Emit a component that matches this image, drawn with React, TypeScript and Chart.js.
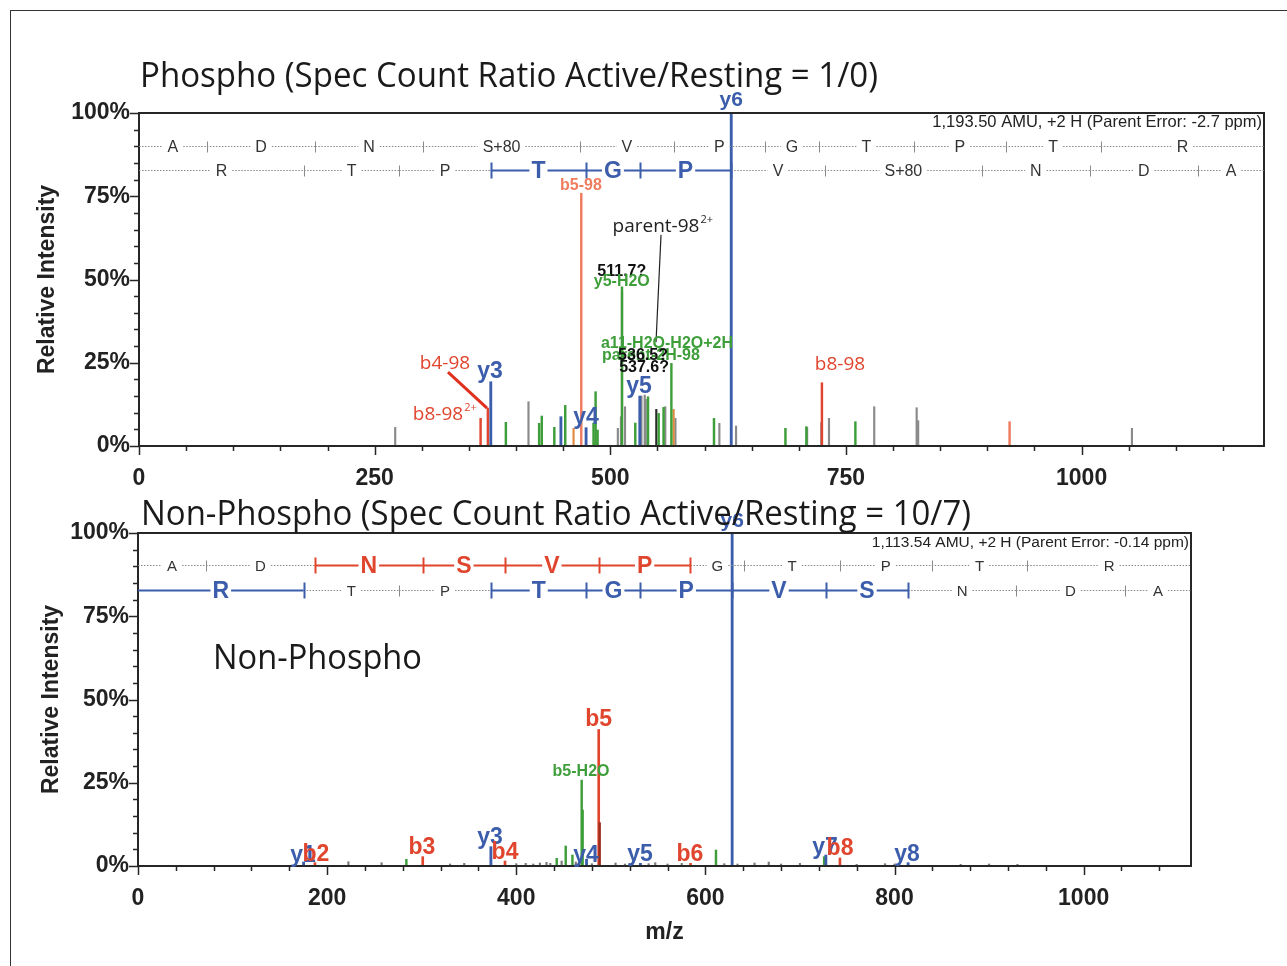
import React, { useEffect, useRef } from 'react';
import { Chart, registerables } from 'chart.js';

Chart.register(...registerables);

const ARIAL = "'Liberation Sans', Arial, Helvetica, sans-serif";
const OPEN = "'Open Sans', 'Noto Sans', sans-serif";

// ---------- axes ----------
const yTickValues = [0, 25, 50, 75, 100];
const topXTickValues = [0, 250, 500, 750, 1000];
const bottomXTickValues = [0, 200, 400, 600, 800, 1000];
const topMaxMz = 1193.5;
const bottomMaxMz = 1113.54;

// ---------- top (phospho) peaks: m/z and relative intensity (%) ----------
const topBlueMz = [373.2, 447.6, 474.3, 531.3, 628.3];
const topBlueInt = [19.3, 8.8, 5.5, 15.0, 100];
const topRedMz = [362.4, 370.1, 724.5];
const topRedInt = [8.3, 11.4, 19.0];
const topSalmonMz = [469.2, 923.6];
const topSalmonInt = [75.9, 7.3];
const topOrangeMz = [461.0, 567.2];
const topOrangeInt = [5.3, 11.0];
const topGreenMz = [389.2, 424.5, 427.3, 440.6, 452.2, 482.2, 484.4, 486.5, 512.4, 526.5, 540.0, 551.3, 556.5, 564.8, 610.0, 685.8, 708.0, 760.0];
const topGreenInt = [7.1, 6.8, 9.0, 5.6, 12.2, 6.9, 16.3, 4.8, 47.8, 6.9, 14.8, 9.8, 11.6, 24.8, 8.3, 5.3, 5.8, 7.3];
const topGrayMz = [271.8, 413.2, 508.0, 511.3, 515.6, 533.0, 536.5, 537.6, 558.3, 569.1, 615.7, 633.4, 708.8, 723.8, 732.0, 780.0, 825.0, 826.6, 1053.4];
const topGrayInt = [5.6, 13.3, 5.3, 8.8, 11.8, 15.0, 15.3, 14.0, 11.8, 8.3, 6.8, 6.0, 5.5, 7.0, 8.3, 11.8, 11.5, 7.6, 5.3];
const topBlackMz = [512.4, 548.8];
const topBlackInt = [46.0, 11.0];

// ---------- bottom (non-phospho) peaks ----------
const botBlueMz = [175.1, 373.2, 474.3, 531.3, 628.3, 727.4, 814.4];
const botBlueInt = [1.2, 5.8, 2.0, 0.8, 100, 3.3, 1.0];
const botRedMz = [187.1, 301.1, 388.1, 487.2, 584.3, 742.3];
const botRedInt = [1.0, 2.8, 1.5, 41.0, 0.8, 2.4];
const botDarkRedMz = [488.2];
const botDarkRedInt = [13.0];
const botGreenMz = [283.8, 442.8, 452.3, 459.4, 469.2, 470.2, 611.2, 725.6];
const botGreenInt = [2.0, 2.3, 6.0, 3.3, 25.8, 16.8, 4.8, 2.8];
const botGrayMz = [222.5, 257.6, 330, 345, 400, 410, 418, 425, 432, 436, 448, 463, 480, 505, 515, 520, 540, 547, 560, 575, 620, 634, 652, 667, 680, 700, 760, 790, 800, 870, 900, 930];
const botGrayInt = [1.3, 1.0, 0.6, 0.8, 0.7, 0.8, 0.6, 0.9, 1.1, 0.8, 1.5, 1.2, 0.7, 0.9, 0.6, 0.8, 0.7, 1.0, 0.6, 0.8, 0.7, 0.6, 0.9, 1.2, 0.6, 0.8, 0.5, 0.7, 0.6, 0.5, 0.6, 0.5];

// ---------- sequence ladders ----------
const topBSeq = ['A', 'D', 'N', 'S+80', 'V', 'P', 'G', 'T', 'P', 'T', 'R'];
const topBBounds = [72.04, 187.07, 301.11, 468.11, 567.18, 664.23, 721.25, 822.3, 919.35, 1020.4];
const topBSolid: number[] = [];
const topYSeq = ['R', 'T', 'P', 'T', 'G', 'P', 'V', 'S+80', 'N', 'D', 'A'];
const topYBounds = [175.12, 276.17, 373.22, 474.27, 531.29, 628.34, 727.41, 894.4, 1008.44, 1123.47];
const topYSolid = [3, 4, 5];
const botBSeq = ['A', 'D', 'N', 'S', 'V', 'P', 'G', 'T', 'P', 'T', 'R'];
const botBBounds = [72.04, 187.07, 301.11, 388.14, 487.21, 584.26, 641.28, 742.33, 839.38, 940.43];
const botBSolid = [2, 3, 4, 5];
const botYSeq = ['R', 'T', 'P', 'T', 'G', 'P', 'V', 'S', 'N', 'D', 'A'];
const botYBounds = [175.12, 276.17, 373.22, 474.27, 531.29, 628.34, 727.41, 814.44, 928.49, 1043.52];
const botYSolid = [0, 3, 4, 5, 6, 7];

// ---------- colours ----------
const C = {
  blue: '#3b5dab',
  red: '#e0452e',
  salmon: '#f07c5e',
  orange: '#e38a42',
  green: '#3e9e3a',
  gray: '#8a8a8a',
  black: '#2a2a2a',
  darkred: '#9b2d1d',
};

// ---------- annotation labels (anchored in m/z / % units) ----------
const fBold = (s: number) => `bold ${s}px ${ARIAL}`;
const fOpen = (s: number) => `${s}px ${OPEN}`;

const topLabels = [
  { t: 'y6', mz: 628.3, p: 103.9, c: C.blue, f: fBold(21) },
  { t: 'b5-98', mz: 468.9, p: 78.1, c: C.salmon, f: fBold(16) },
  { t: 'parent-98', mz: 548.5, p: 65.8, c: '#222', f: fOpen(19), sup: '2+', supF: fOpen(11) },
  { t: '511.7?', mz: 512.2, p: 52.3, c: '#111', f: fBold(16) },
  { t: 'y5-H2O', mz: 512.2, p: 49.5, c: C.green, f: fBold(16) },
  { t: 'a11-H2O-H2O+2H', mz: 490.1, p: 30.9, c: C.green, f: fBold(16), al: 'left' },
  { t: 'parent-2H-98', mz: 491.2, p: 27.0, c: C.green, f: fBold(16), al: 'left' },
  { t: '536.5?', mz: 534.7, p: 27.0, c: '#111', f: fBold(16) },
  { t: '537.6?', mz: 535.8, p: 23.4, c: '#111', f: fBold(16) },
  { t: 'y5', mz: 530.4, p: 17.7, c: C.blue, f: fBold(23) },
  { t: 'y4', mz: 474.2, p: 8.4, c: C.blue, f: fBold(23) },
  { t: 'y3', mz: 372.4, p: 22.2, c: C.blue, f: fBold(23) },
  { t: 'b4-98', mz: 324.6, p: 24.6, c: C.red, f: fOpen(19) },
  { t: 'b8-98', mz: 317.2, p: 9.3, c: C.red, f: fOpen(19), sup: '2+', supF: fOpen(11) },
  { t: 'b8-98', mz: 743.7, p: 24.3, c: C.red, f: fOpen(19) },
];
const topLeaders = [
  { x0: 327.8, p0: 22.2, x1: 369.2, p1: 11.4, c: '#e0301e', w: 3 },
  { x0: 553.8, p0: 63.4, x1: 548.5, p1: 31.2, c: '#222', w: 1.2 },
];

const botLabels = [
  { t: 'y6', mz: 628.3, p: 103.6, c: C.blue, f: fBold(21) },
  { t: 'b5', mz: 487.2, p: 43.8, c: C.red, f: fBold(23) },
  { t: 'b5-H2O', mz: 468.5, p: 28.5, c: C.green, f: fBold(16) },
  { t: 'y1', mz: 174.5, p: 3.0, c: C.blue, f: fBold(23) },
  { t: 'b2', mz: 188.2, p: 3.3, c: C.red, f: fBold(23) },
  { t: 'b3', mz: 300.3, p: 5.4, c: C.red, f: fBold(23) },
  { t: 'y3', mz: 372.2, p: 8.4, c: C.blue, f: fBold(23) },
  { t: 'b4', mz: 388.1, p: 3.9, c: C.red, f: fBold(23) },
  { t: 'y4', mz: 473.8, p: 3.0, c: C.blue, f: fBold(23) },
  { t: 'y5', mz: 530.9, p: 3.3, c: C.blue, f: fBold(23) },
  { t: 'b6', mz: 583.7, p: 3.3, c: C.red, f: fBold(23) },
  { t: 'y7', mz: 726.5, p: 5.4, c: C.blue, f: fBold(23) },
  { t: 'b8', mz: 742.4, p: 5.1, c: C.red, f: fBold(23) },
  { t: 'y8', mz: 813.2, p: 3.3, c: C.blue, f: fBold(23) },
  { t: 'Non-Phospho', mz: 79.3, p: 62.2, c: '#1a1a1a', f: fOpen(35), al: 'left', mw: 209 },
];

// ---------- plugin ----------
function drawRow(ctx: CanvasRenderingContext2D, X: (v: number) => number, a: any, xs: any, row: any) {
  const b = [xs.min, ...row.bounds, xs.max];
  const y = Math.round(a.top + row.dy) + 0.5;
  ctx.textAlign = 'center';
  ctx.textBaseline = 'middle';
  for (let i = 0; i < row.seq.length; i++) {
    const x0 = X(b[i]);
    const x1 = X(b[i + 1]);
    const cx = (x0 + x1) / 2;
    const solid = row.solid.indexOf(i) >= 0;
    ctx.font = solid ? row.boldFont : row.font;
    const tw = ctx.measureText(row.seq[i]).width;
    const g = solid ? 2 : 5;
    if (solid) {
      ctx.strokeStyle = row.color;
      ctx.lineWidth = 2.2;
      ctx.setLineDash([]);
    } else {
      ctx.strokeStyle = '#8a8a8a';
      ctx.lineWidth = 1;
      ctx.setLineDash([1.5, 1.5]);
    }
    const l = cx - tw / 2 - g;
    const r = cx + tw / 2 + g;
    ctx.beginPath();
    if (l > x0) { ctx.moveTo(x0, y); ctx.lineTo(l, y); }
    if (x1 > r) { ctx.moveTo(r, y); ctx.lineTo(x1, y); }
    ctx.stroke();
    ctx.fillStyle = solid ? row.color : '#333';
    ctx.fillText(row.seq[i], cx, y + 1);
  }
  ctx.setLineDash([]);
  for (let j = 0; j < row.bounds.length; j++) {
    const x = Math.round(X(row.bounds[j])) + 0.5;
    const colored = row.solid.indexOf(j) >= 0 || row.solid.indexOf(j + 1) >= 0;
    ctx.beginPath();
    if (colored) {
      ctx.strokeStyle = row.color;
      ctx.lineWidth = 2;
      ctx.moveTo(x, y - 8);
      ctx.lineTo(x, y + 8);
    } else {
      ctx.strokeStyle = '#8a8a8a';
      ctx.lineWidth = 1;
      ctx.moveTo(x, y - 5);
      ctx.lineTo(x, y + 6);
    }
    ctx.stroke();
  }
}

const specPlugin = {
  id: 'spec',
  afterDraw(chart: any, _args: any, o: any) {
    const { ctx, chartArea: a } = chart;
    const xs = chart.scales.x;
    const ys = chart.scales.y;
    const X = (v: number) => xs.getPixelForValue(v);
    const Y = (v: number) => ys.getPixelForValue(v);
    ctx.save();
    // plot frame
    ctx.setLineDash([]);
    ctx.strokeStyle = '#262626';
    ctx.lineWidth = 2;
    ctx.strokeRect(a.left, a.top, a.right - a.left, a.bottom - a.top);
    // ticks
    ctx.lineWidth = 1.5;
    ctx.beginPath();
    for (let v = 0; v <= xs.max + 1e-6; v += o.minorX) {
      const major = o.majorX.indexOf(v) >= 0;
      const px = Math.round(X(v)) + 0.5;
      ctx.moveTo(px, a.bottom);
      ctx.lineTo(px, a.bottom + (major ? 9 : 5));
    }
    for (let v = 0; v <= 100; v += 5) {
      const major = v % 25 === 0;
      const py = Math.round(Y(v)) + 0.5;
      ctx.moveTo(a.left, py);
      ctx.lineTo(a.left - (major ? 9 : 5), py);
    }
    ctx.stroke();
    // ladders
    for (const row of o.rows) drawRow(ctx, X, a, xs, row);
    // AMU text
    ctx.font = o.amuFont;
    ctx.fillStyle = '#222';
    ctx.textAlign = 'right';
    ctx.textBaseline = 'middle';
    ctx.fillText(o.amu, a.right - 2, a.top + o.amuDy);
    // leader lines
    for (const l of o.leaders) {
      ctx.strokeStyle = l.c;
      ctx.lineWidth = l.w;
      ctx.beginPath();
      ctx.moveTo(X(l.x0), Y(l.p0));
      ctx.lineTo(X(l.x1), Y(l.p1));
      ctx.stroke();
    }
    // labels
    ctx.textAlign = 'left';
    ctx.textBaseline = 'middle';
    for (const t of o.labels) {
      ctx.font = t.f;
      ctx.fillStyle = t.c;
      let w = ctx.measureText(t.t).width;
      if (t.mw) w = Math.min(w, t.mw);
      const x = X(t.mz);
      const y = Y(t.p);
      const left = t.al === 'left' ? x : x - w / 2;
      if (t.mw) ctx.fillText(t.t, left, y, t.mw);
      else ctx.fillText(t.t, left, y);
      if (t.sup) {
        ctx.font = t.supF;
        ctx.fillText(t.sup, left + w + 1, y - 7);
      }
    }
    // title
    ctx.font = o.titleFont;
    ctx.fillStyle = '#1a1a1a';
    ctx.textAlign = 'left';
    ctx.textBaseline = 'alphabetic';
    ctx.fillText(o.title, o.titleX, o.titleY, o.titleW);
    ctx.restore();
  },
};

// Chart.js paints dataset 0 last (on top), so the list is reversed:
// the group listed last in a config ends up on top.
function makeGroups(list: any[]) {
  return list
    .map((g) => ({
      data: g.mz.map((m: number, i: number) => ({ x: m, y: g.v[i] })),
      backgroundColor: g.c,
      borderWidth: 0,
      barThickness: g.w,
      grouped: false,
    }))
    .reverse();
}

function makeConfig(p: any): any {
  const tickFont = { family: ARIAL, size: 23, weight: 'bold' };
  return {
    type: 'bar',
    data: { datasets: makeGroups(p.groups) },
    options: {
      animation: false,
      responsive: false,
      devicePixelRatio: 1,
      layout: { padding: p.padding },
      plugins: {
        legend: { display: false },
        tooltip: { enabled: false },
        title: { display: false },
        spec: p.spec,
      },
      scales: {
        x: {
          type: 'linear',
          min: 0,
          max: p.xMax,
          offset: false,
          grid: { display: false, drawTicks: false },
          border: { display: false },
          afterBuildTicks: (s: any) => {
            s.ticks = p.xTicks.map((v: number) => ({ value: v }));
          },
          afterFit: (s: any) => {
            s.height = p.xAxisH;
          },
          ticks: {
            font: tickFont,
            color: '#222',
            padding: 19,
            maxRotation: 0,
            autoSkip: false,
            callback: (v: any) => String(v),
          },
          title: p.xTitle
            ? { display: true, text: p.xTitle, font: tickFont, color: '#222' }
            : { display: false },
        },
        y: {
          min: 0,
          max: 100,
          grid: { display: false, drawTicks: false },
          border: { display: false },
          afterBuildTicks: (s: any) => {
            s.ticks = yTickValues.map((v) => ({ value: v }));
          },
          afterFit: (s: any) => {
            s.width = p.yAxisW;
          },
          ticks: { font: tickFont, color: '#222', padding: 9, autoSkip: false, callback: (v: any) => v + '%' },
          title: { display: true, text: 'Relative Intensity', font: tickFont, color: '#222' },
        },
      },
    },
    plugins: [specPlugin],
  };
}

const topConfig = () =>
  makeConfig({
    xMax: topMaxMz,
    xTicks: topXTickValues,
    xAxisH: 40,
    yAxisW: 109,
    padding: { left: 30, right: 23, top: 113, bottom: 14 },
    groups: [
      { mz: topBlackMz, v: topBlackInt, c: C.black, w: 1.5 },
      { mz: topGrayMz, v: topGrayInt, c: C.gray, w: 1.5 },
      { mz: topOrangeMz, v: topOrangeInt, c: C.orange, w: 1.5 },
      { mz: topGreenMz, v: topGreenInt, c: C.green, w: 1.8 },
      { mz: topRedMz, v: topRedInt, c: C.red, w: 1.8 },
      { mz: topSalmonMz, v: topSalmonInt, c: C.salmon, w: 1.8 },
      { mz: topBlueMz, v: topBlueInt, c: C.blue, w: 2.2 },
    ],
    spec: {
      minorX: 50,
      majorX: topXTickValues,
      rows: [
        { seq: topBSeq, bounds: topBBounds, solid: topBSolid, dy: 33, color: C.red, font: `16px ${ARIAL}`, boldFont: fBold(23) },
        { seq: topYSeq, bounds: topYBounds, solid: topYSolid, dy: 57, color: C.blue, font: `16px ${ARIAL}`, boldFont: fBold(23) },
      ],
      amu: '1,193.50 AMU, +2 H (Parent Error: -2.7 ppm)',
      amuFont: `16.5px ${ARIAL}`,
      amuDy: 9,
      leaders: topLeaders,
      labels: topLabels,
      title: 'Phospho (Spec Count Ratio Active/Resting = 1/0)',
      titleFont: fOpen(35),
      titleX: 140,
      titleY: 87,
      titleW: 738,
    },
  });

const bottomConfig = () =>
  makeConfig({
    xMax: bottomMaxMz,
    xTicks: bottomXTickValues,
    xAxisH: 84,
    yAxisW: 104,
    xTitle: 'm/z',
    padding: { left: 34, right: 96, top: 53, bottom: 16 },
    groups: [
      { mz: botGrayMz, v: botGrayInt, c: '#7a7a7a', w: 1.5 },
      { mz: botGreenMz, v: botGreenInt, c: C.green, w: 1.8 },
      { mz: botRedMz, v: botRedInt, c: C.red, w: 2 },
      { mz: botDarkRedMz, v: botDarkRedInt, c: C.darkred, w: 1.8 },
      { mz: botBlueMz, v: botBlueInt, c: C.blue, w: 2.2 },
    ],
    spec: {
      minorX: 40,
      majorX: bottomXTickValues,
      rows: [
        { seq: botBSeq, bounds: botBBounds, solid: botBSolid, dy: 32, color: C.red, font: `15px ${ARIAL}`, boldFont: fBold(23) },
        { seq: botYSeq, bounds: botYBounds, solid: botYSolid, dy: 57, color: C.blue, font: `15px ${ARIAL}`, boldFont: fBold(23) },
      ],
      amu: '1,113.54 AMU, +2 H (Parent Error: -0.14 ppm)',
      amuFont: `15.5px ${ARIAL}`,
      amuDy: 10,
      leaders: [],
      labels: botLabels,
      title: 'Non-Phospho (Spec Count Ratio Active/Resting = 10/7)',
      titleFont: fOpen(35),
      titleX: 141,
      titleY: 45,
      titleW: 830,
    },
  });

function SpecCanvas({ make, top, height }: { make: () => any; top: number; height: number }) {
  const ref = useRef<HTMLCanvasElement>(null);
  useEffect(() => {
    if (!ref.current) return;
    const chart = new Chart(ref.current, make());
    return () => chart.destroy();
  }, []);
  return (
    <canvas
      ref={ref}
      width={1287}
      height={height}
      style={{ position: 'absolute', left: 0, top, width: 1287, height }}
    />
  );
}

export default function App() {
  return (
    <div style={{ position: 'absolute', left: 0, top: 0, width: 1287, height: 966, background: '#fff', overflow: 'hidden' }}>
      <div
        style={{
          position: 'absolute',
          left: 10,
          top: 10,
          width: 1300,
          height: 1000,
          borderLeft: '1px solid #333',
          borderTop: '1px solid #333',
        }}
      />
      <SpecCanvas make={topConfig} top={0} height={500} />
      <SpecCanvas make={bottomConfig} top={480} height={486} />
    </div>
  );
}
